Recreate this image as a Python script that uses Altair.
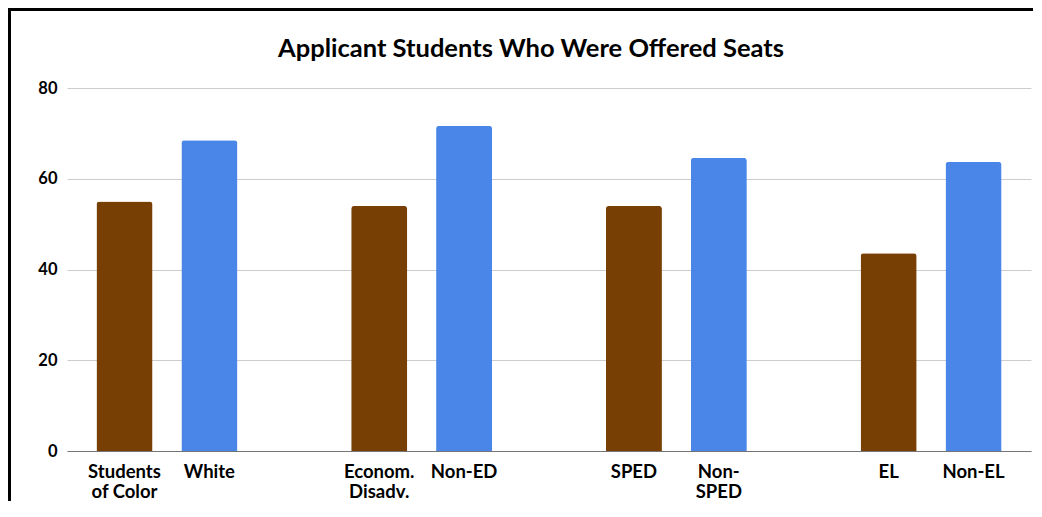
import altair as alt
import pandas as pd

# ---- data ----
categories = ["Students|of Color", "White", "Econom.|Disadv.", "Non-ED",
              "SPED", "Non-|SPED", "EL", "Non-EL"]
values = [55, 68.5, 54, 71.7, 54, 64.6, 43.6, 63.7]
kinds = ["focal", "other", "focal", "other", "focal", "other", "focal", "other"]
axis_order = ["Students|of Color", "White", "gap1",
              "Econom.|Disadv.", "Non-ED", "gap2",
              "SPED", "Non-|SPED", "gap3",
              "EL", "Non-EL"]
y_ticks = [0, 20, 40, 60, 80]

df = pd.DataFrame({"cat": categories, "value": values, "kind": kinds})

FONT = "Lato"

bars = alt.Chart(df).mark_bar(
    cornerRadiusTopLeft=3, cornerRadiusTopRight=3
).encode(
    x=alt.X("cat:N", sort=axis_order,
            scale=alt.Scale(domain=axis_order, paddingInner=0.34, paddingOuter=0.347),
            axis=alt.Axis(title=None, labelAngle=0, ticks=False,
                          labelExpr="indexof(datum.value,'gap')==0 ? '' : split(datum.value,'|')",
                          labelFont=FONT, labelFontSize=18.5, labelFontWeight="bold",
                          labelColor="#000000", labelPadding=11, labelLineHeight=20,
                          domainColor="#757575", domainWidth=1.2, grid=False)),
    y=alt.Y("value:Q",
            scale=alt.Scale(domain=[0, 80], nice=False),
            axis=alt.Axis(title=None, values=y_ticks, ticks=False, domain=False,
                          labelFont=FONT, labelFontSize=16.5, labelFontWeight="bold",
                          labelColor="#000000", labelPadding=10,
                          gridColor="#cccccc", gridWidth=1)),
    color=alt.Color("kind:N",
                    scale=alt.Scale(domain=["focal", "other"], range=["#783f04", "#4a86e8"]),
                    legend=None),
)

frame_df = pd.DataFrame({"k": [1]})
top_edge = alt.Chart(frame_df).mark_rule(color="#000000", strokeWidth=3).encode(
    x=alt.value(-59), x2=alt.value(980), y=alt.value(-78.5))
left_edge = alt.Chart(frame_df).mark_rule(color="#000000", strokeWidth=3).encode(
    x=alt.value(-57.5), y=alt.value(-80), y2=alt.value(420))

chart = alt.layer(bars, top_edge, left_edge).properties(
    width=964, height=363,
    background="#ffffff",
    title=alt.TitleParams("Applicant Students Who Were Offered Seats",
                          font=FONT, fontSize=25.5, fontWeight="bold", color="#000000",
                          anchor="middle", dx=-18, offset=-56),
    autosize=alt.AutoSizeParams(type="none"),
    padding={"left": 59, "top": 80, "right": 2, "bottom": 50},
).configure_view(strokeWidth=0, stroke="transparent")

chart.save("out.html", embed_options={"renderer": "svg", "actions": False})
